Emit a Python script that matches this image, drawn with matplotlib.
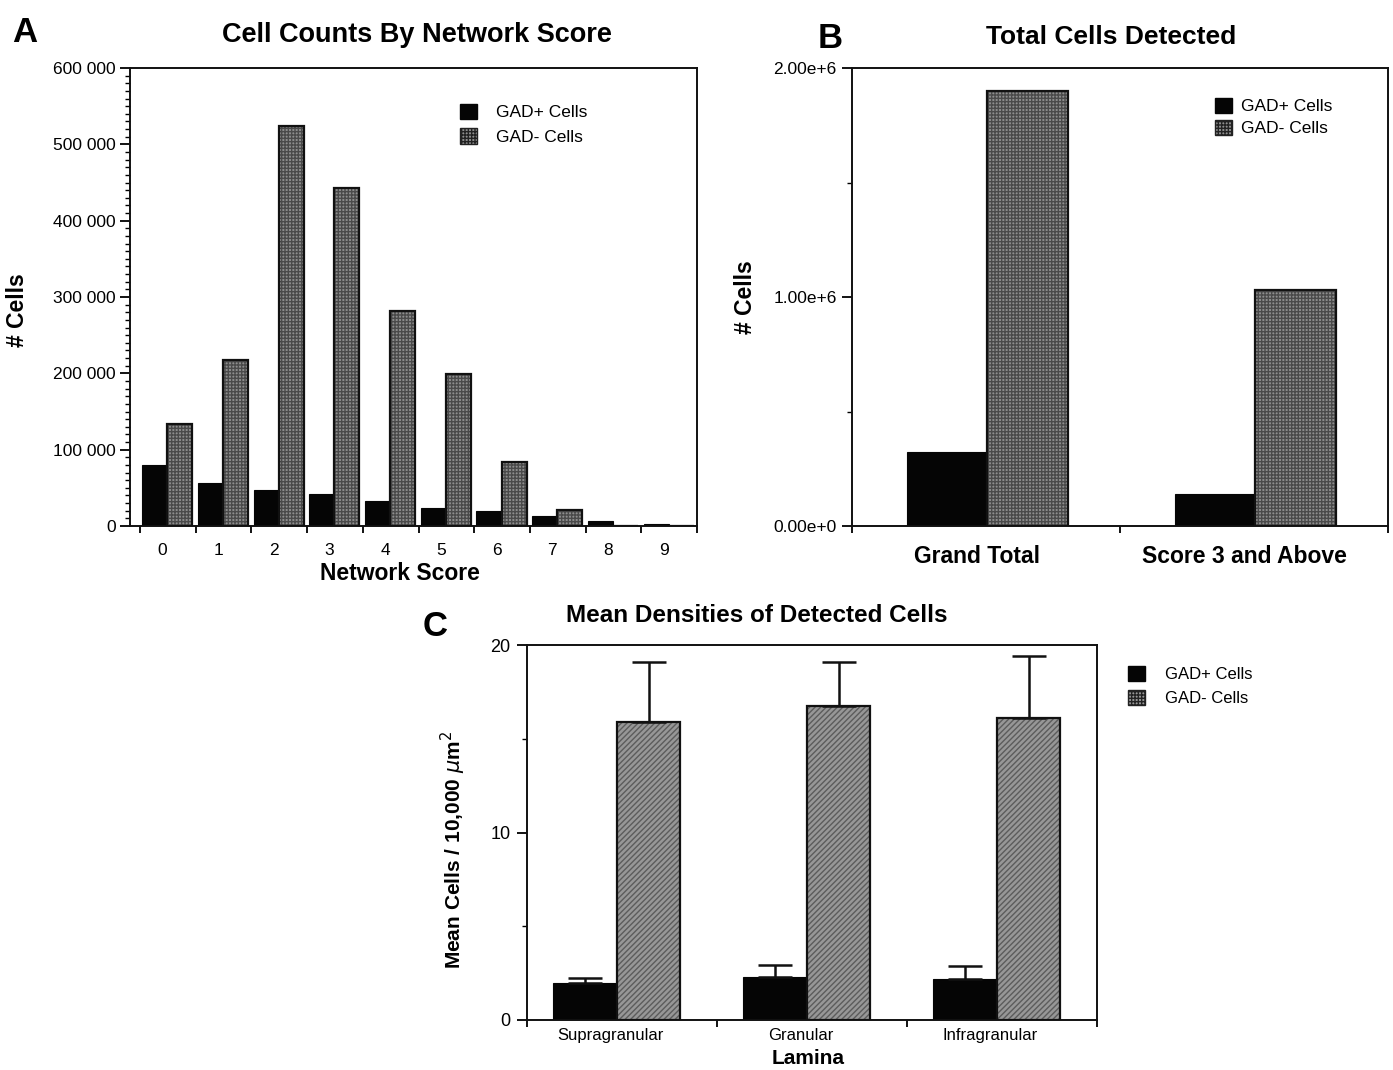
import numpy as np
import matplotlib
matplotlib.use("Agg")
import matplotlib.pyplot as plt
from matplotlib.ticker import MultipleLocator, FixedLocator, NullFormatter
from matplotlib.patches import Patch

plt.rcParams['font.family'] = ['Liberation Sans', 'DejaVu Sans']
plt.rcParams['mathtext.fontset'] = 'dejavusans'

# ---------------- data ----------------
scores = ['0', '1', '2', '3', '4', '5', '6', '7', '8', '9']
gad_pos_counts = [80000, 56500, 47000, 42000, 33000, 23500, 19500, 13000, 6500, 3000]
gad_neg_counts = [133000, 217000, 523500, 443000, 281500, 199000, 83500, 21000, 0, 0]

totals_cats = ['Grand Total', 'Score 3 and Above']
gad_pos_totals = [323000, 140000]
gad_neg_totals = [1900000, 1030000]

lamina = ['Supragranular', 'Granular', 'Infragranular']
gad_pos_density = [1.97, 2.29, 2.19]
gad_pos_err = [0.27, 0.64, 0.69]
gad_neg_density = [15.9, 16.75, 16.1]
gad_neg_err = [3.2, 2.35, 3.3]

legend_labels = ['GAD+ Cells', 'GAD- Cells']

W, H = 1393, 1070
fig = plt.figure(figsize=(W / 100, H / 100), dpi=100)

def fx(px):
    return px / W

def fy(py):
    return 1 - py / H

BLACK = '#050505'
GRAY = '#8e8e8e'
HATCHC = '#4a4a4a'

def gray_bars(ax, x, h, w, hatch, face=GRAY, hcol=HATCHC):
    ax.bar(x, h, w, align='edge', color=face, edgecolor='none', linewidth=0, zorder=2)
    ax.bar(x, h, w, align='edge', fill=False, hatch=hatch, edgecolor=hcol, linewidth=0, zorder=3)
    ax.bar(x, h, w, align='edge', fill=False, edgecolor='#111111', linewidth=1.6, zorder=4)

def style_spines(ax):
    for s in ax.spines.values():
        s.set_linewidth(1.4)
        s.set_color('#111111')

TICK_FS = 12.5

# ---------------- Panel A ----------------
axA = fig.add_axes([fx(130), fy(526), fx(697 - 130), (526 - 68) / H])
idx = np.arange(len(scores))
bw = 0.45
axA.bar(idx + 0.04, gad_pos_counts, bw, align='edge', color=BLACK, edgecolor=BLACK, linewidth=0.8, zorder=2)
gray_bars(axA, idx + 0.04 + bw, gad_neg_counts, bw, '+++++')
axA.set_xlim(-0.18, 10.0)
axA.set_ylim(0, 600000)
axA.yaxis.set_major_locator(MultipleLocator(100000))
axA.yaxis.set_minor_locator(MultipleLocator(10000))
axA.set_yticklabels([f"{int(v):,}".replace(',', ' ') for v in axA.get_yticks()])
axA.xaxis.set_major_locator(FixedLocator(np.arange(len(scores) + 1)))
axA.xaxis.set_major_formatter(NullFormatter())
axA.xaxis.set_minor_locator(FixedLocator(idx + 0.40))
axA.set_xticklabels(scores, minor=True)
axA.tick_params(axis='x', which='minor', length=0, pad=12, labelsize=TICK_FS)
axA.tick_params(axis='x', which='major', length=5, width=1.3, direction='out')
axA.tick_params(axis='y', which='major', length=7, width=1.3, labelsize=TICK_FS, pad=3)
axA.tick_params(axis='y', which='minor', length=3.5, width=1)
style_spines(axA)
axA.legend(handles=[Patch(facecolor=BLACK, edgecolor=BLACK),
                    Patch(facecolor=GRAY, edgecolor='#222222', hatch='+++++')],
           labels=legend_labels, loc='upper left', bbox_to_anchor=(fx(444), fy(88)),
           bbox_transform=fig.transFigure, frameon=False, fontsize=12.5,
           handlelength=1.0, handleheight=1.0, handletextpad=1.1, labelspacing=0.45)
fig.text(fx(417), fy(35), 'Cell Counts By Network Score', ha='center', va='center',
         fontsize=19.5, fontweight='bold')
fig.text(fx(400), fy(573), 'Network Score', ha='center', va='center', fontsize=16.5, fontweight='bold')
fig.text(fx(18), fy(310), '# Cells', ha='center', va='center', rotation=90, fontsize=16.5, fontweight='bold')
fig.text(fx(25), fy(32), 'A', ha='center', va='center', fontsize=25, fontweight='bold')

# ---------------- Panel B ----------------
axB = fig.add_axes([fx(852), fy(526), fx(1388 - 852), (526 - 68) / H])
jdx = np.arange(len(totals_cats))
bw2 = 0.30
axB.bar(jdx + 0.205, gad_pos_totals, bw2, align='edge', color=BLACK, edgecolor=BLACK, linewidth=0.8, zorder=2)
gray_bars(axB, jdx + 0.205 + bw2, gad_neg_totals, bw2, '+++++')
axB.set_xlim(0, 2)
axB.set_ylim(0, 2000000)
axB.yaxis.set_major_locator(MultipleLocator(1000000))
axB.yaxis.set_minor_locator(MultipleLocator(500000))
axB.set_yticklabels([f"{v:.2e}".replace('e+06', 'e+6').replace('e+00', 'e+0') for v in axB.get_yticks()])
axB.xaxis.set_major_locator(FixedLocator([0, 1, 2]))
axB.xaxis.set_major_formatter(NullFormatter())
axB.xaxis.set_minor_locator(FixedLocator(jdx + 0.465))
axB.set_xticklabels(totals_cats, minor=True)
axB.tick_params(axis='x', which='minor', length=0, pad=14, labelsize=16.5)
for lab in axB.get_xticklabels(minor=True):
    lab.set_fontweight('bold')
axB.tick_params(axis='x', which='major', length=5, width=1.3, direction='out')
axB.tick_params(axis='y', which='major', length=7, width=1.3, labelsize=TICK_FS, pad=4)
axB.tick_params(axis='y', which='minor', length=3.5, width=1)
style_spines(axB)
axB.legend(handles=[Patch(facecolor=BLACK, edgecolor=BLACK),
                    Patch(facecolor=GRAY, edgecolor='#222222', hatch='+++++')],
           labels=legend_labels, loc='upper left', bbox_to_anchor=(fx(1199), fy(82)),
           bbox_transform=fig.transFigure, frameon=False, fontsize=12.5,
           handlelength=1.0, handleheight=1.0, handletextpad=0.5, labelspacing=0.3)
fig.text(fx(1111), fy(37), 'Total Cells Detected', ha='center', va='center',
         fontsize=19, fontweight='bold')
fig.text(fx(745), fy(297), '# Cells', ha='center', va='center', rotation=90, fontsize=16.5, fontweight='bold')
fig.text(fx(830), fy(38), 'B', ha='center', va='center', fontsize=25, fontweight='bold')

# ---------------- Panel C ----------------
axC = fig.add_axes([fx(527), fy(1020), fx(1097 - 527), (1020 - 645) / H])
kdx = np.arange(len(lamina))
bw3 = 0.335
axC.bar(kdx + 0.137, gad_pos_density, bw3, align='edge', color=BLACK, edgecolor=BLACK, linewidth=0.8, zorder=2)
gray_bars(axC, kdx + 0.137 + bw3, gad_neg_density, bw3, '//////', face='#979797', hcol='#5c5c5c')
axC.errorbar(kdx + 0.137 + bw3 / 2, gad_pos_density, yerr=[np.zeros(len(lamina)), gad_pos_err],
             fmt='none', ecolor='#111111', elinewidth=1.8, capsize=12.5, capthick=1.8, zorder=5)
axC.errorbar(kdx + 0.137 + 1.5 * bw3, gad_neg_density, yerr=[np.zeros(len(lamina)), gad_neg_err],
             fmt='none', ecolor='#111111', elinewidth=1.8, capsize=12.5, capthick=1.8, zorder=5)
axC.set_xlim(0, 3)
axC.set_ylim(0, 20)
axC.yaxis.set_major_locator(MultipleLocator(10))
axC.yaxis.set_minor_locator(MultipleLocator(5))
axC.xaxis.set_major_locator(FixedLocator([0, 1, 2, 3]))
axC.xaxis.set_major_formatter(NullFormatter())
axC.xaxis.set_minor_locator(FixedLocator(kdx + 0.44))
axC.set_xticklabels(lamina, minor=True)
axC.tick_params(axis='x', which='minor', length=0, pad=6, labelsize=12)
axC.tick_params(axis='x', which='major', length=5, width=1.3, direction='out')
axC.tick_params(axis='y', which='major', length=7, width=1.3, labelsize=13, pad=5)
axC.tick_params(axis='y', which='minor', length=3.5, width=1)
style_spines(axC)
axC.legend(handles=[Patch(facecolor=BLACK, edgecolor=BLACK),
                    Patch(facecolor='#979797', edgecolor='#222222', hatch='+++++')],
           labels=legend_labels, loc='upper left', bbox_to_anchor=(fx(1113), fy(651)),
           bbox_transform=fig.transFigure, frameon=False, fontsize=12,
           handlelength=1.0, handleheight=1.0, handletextpad=1.2, labelspacing=0.45)
fig.text(fx(757), fy(615), 'Mean Densities of Detected Cells', ha='center', va='center',
         fontsize=17.5, fontweight='bold')
fig.text(fx(808), fy(1058), 'Lamina', ha='center', va='center', fontsize=15, fontweight='bold')
fig.text(fx(453), fy(850), r'Mean Cells / 10,000 $\mu$m$^2$', ha='center', va='center',
         rotation=90, fontsize=15, fontweight='bold')
fig.text(fx(435), fy(627), 'C', ha='center', va='center', fontsize=25, fontweight='bold')

fig.savefig('out.png', dpi=100)
